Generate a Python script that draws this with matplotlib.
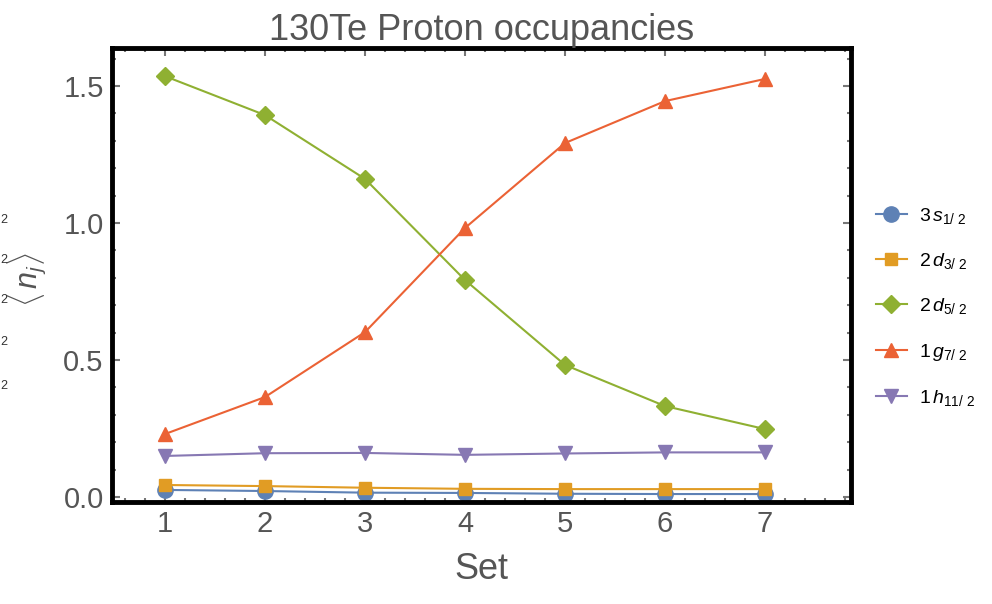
import matplotlib
matplotlib.use("Agg")
import matplotlib.pyplot as plt
from matplotlib.ticker import MultipleLocator

sets = [1, 2, 3, 4, 5, 6, 7]
s12 = [0.026, 0.022, 0.016, 0.015, 0.012, 0.011, 0.011]
d32 = [0.044, 0.040, 0.034, 0.030, 0.029, 0.029, 0.029]
d52 = [1.536, 1.394, 1.161, 0.792, 0.482, 0.332, 0.248]
g72 = [0.230, 0.365, 0.602, 0.982, 1.292, 1.445, 1.526]
h112 = [0.150, 0.160, 0.161, 0.154, 0.159, 0.163, 0.163]

labels = [r'$3\,s_{1/\ 2}$', r'$2\,d_{3/\ 2}$', r'$2\,d_{5/\ 2}$',
          r'$1\,g_{7/\ 2}$', r'$1\,h_{11/\ 2}$']
colors = ['#5E81B5', '#E19C24', '#8FB032', '#EB6235', '#8778B3']
markers = ['o', 's', 'D', '^', 'v']
msizes = [11, 9, 9, 10, 10]
series = [s12, d32, d52, g72, h112]

plt.rcParams['font.family'] = ['Liberation Sans', 'DejaVu Sans']
plt.rcParams['mathtext.fontset'] = 'custom'
plt.rcParams['mathtext.rm'] = 'Liberation Sans'
plt.rcParams['mathtext.it'] = 'Liberation Sans:italic'

fig = plt.figure(figsize=(9.92, 6.04), dpi=100)
ax = fig.add_axes([0.1129, 0.1689, 0.745, 0.7517])

for ys, lab, c, m, ms in zip(series, labels, colors, markers, msizes):
    ax.plot(sets, ys, color=c, marker=m, markersize=ms, lw=1.5, label=lab)

ax.set_xlim(0.47, 7.86)
ax.set_ylim(-0.018, 1.639)
ax.xaxis.set_major_locator(MultipleLocator(1))
ax.xaxis.set_minor_locator(MultipleLocator(0.2))
ax.yaxis.set_major_locator(MultipleLocator(0.5))
ax.yaxis.set_minor_locator(MultipleLocator(0.1))
ax.set_yticks([0.0, 0.5, 1.0, 1.5])
ax.set_yticklabels(['0.0', '0.5', '1.0', '1.5'])

gray = '#555555'
ax.tick_params(which='both', direction='in', top=True, right=True,
               color='#777777', labelcolor=gray, labelsize=21)
ax.tick_params(which='major', length=6, width=1.5, pad=6)
ax.tick_params(which='minor', length=3, width=1.5)
for sp in ax.spines.values():
    sp.set_linewidth(3.5)
    sp.set_color('black')

ax.set_title('130Te Proton occupancies', color=gray, fontsize=26, pad=4)
ax.set_xlabel('Set', color=gray, fontsize=26, labelpad=10)
ax.set_ylabel(r'$\langle\, n_j \rangle$', color=gray, fontsize=22)
ax.yaxis.set_label_coords(-0.086, 0.49)

leg = ax.legend(loc='center left', bbox_to_anchor=(1.01, 0.43), frameon=False,
                fontsize=14, handlelength=1.6, labelspacing=1.3,
                handletextpad=0.6)

for yy in [220, 260, 300, 342, 386]:
    fig.text(0.5 / 992, 1 - yy / 604, '2', fontsize=9, color='#333333',
             va='center', ha='left')

fig.savefig('out.png', dpi=100)
